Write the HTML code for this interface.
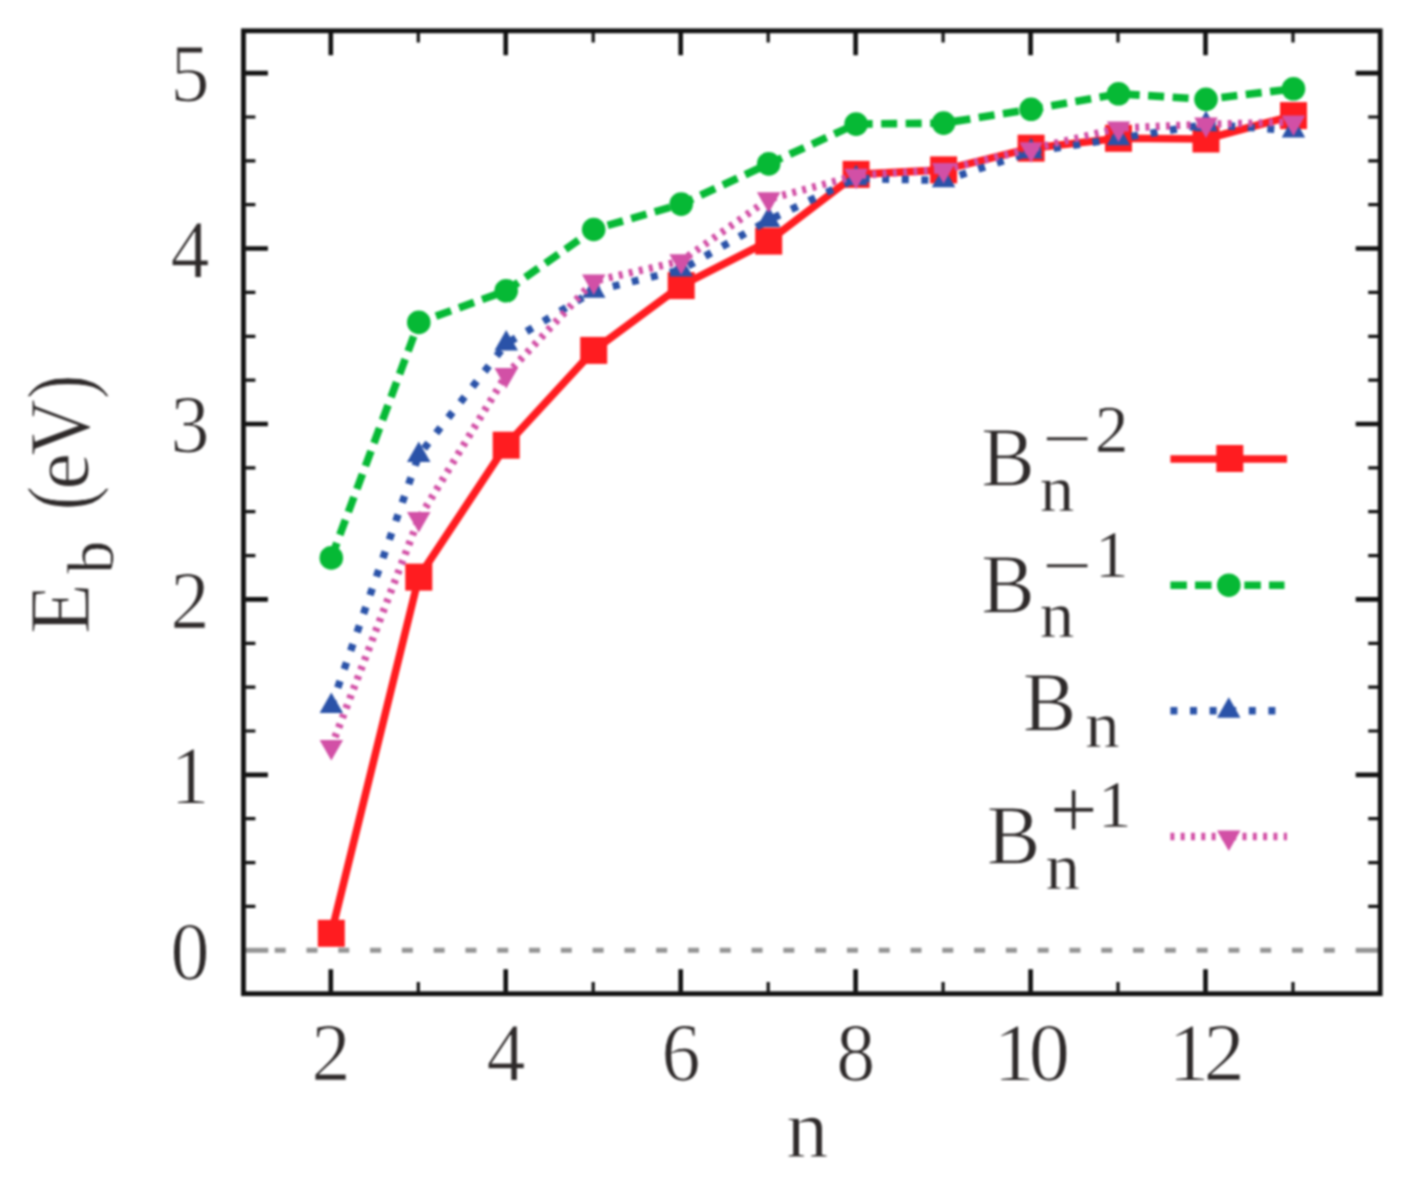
<!DOCTYPE html>
<html lang="en"><head><meta charset="utf-8"><title>Binding energy per atom of boron clusters</title>
<style>
html,body{margin:0;padding:0;background:#fff;}
body{width:1420px;height:1181px;overflow:hidden;}
svg{display:block;filter:blur(1px);}
text{font-family:"Liberation Serif",serif;fill:#2e2a2a;stroke:#fff;stroke-width:1.1px;}
.s{stroke-width:0.5px;}
</style></head><body>
<svg width="1420" height="1181" viewBox="0 0 1420 1181">
<rect width="1420" height="1181" fill="#fff"/>

<g stroke="#959595" stroke-width="5" fill="none">
<line x1="245.8" y1="950.3" x2="268.3" y2="950.3"/>
<line x1="1355.7" y1="950.3" x2="1377.9" y2="950.3"/>
<line x1="274.7" y1="950.3" x2="1345" y2="950.3" stroke-dasharray="11 20.79"/>
</g>
<g stroke="#111" fill="none">
<path stroke-width="4.6" d="M245.4 774.9h22.5M1378.2 774.9h-22.5M245.4 599.4h22.5M1378.2 599.4h-22.5M245.4 424.0h22.5M1378.2 424.0h-22.5M245.4 248.5h22.5M1378.2 248.5h-22.5M245.4 73.1h22.5M1378.2 73.1h-22.5M330.8 32.8v22.5M330.8 991.7v-22.5M505.7 32.8v22.5M505.7 991.7v-22.5M680.7 32.8v22.5M680.7 991.7v-22.5M855.6 32.8v22.5M855.6 991.7v-22.5M1030.6 32.8v22.5M1030.6 991.7v-22.5M1205.5 32.8v22.5M1205.5 991.7v-22.5"/>
<path stroke-width="3.2" d="M245.4 906.4h10M1378.2 906.4h-10M245.4 862.6h10M1378.2 862.6h-10M245.4 818.7h10M1378.2 818.7h-10M245.4 731.0h10M1378.2 731.0h-10M245.4 687.1h10M1378.2 687.1h-10M245.4 643.3h10M1378.2 643.3h-10M245.4 555.6h10M1378.2 555.6h-10M245.4 511.7h10M1378.2 511.7h-10M245.4 467.8h10M1378.2 467.8h-10M245.4 380.1h10M1378.2 380.1h-10M245.4 336.3h10M1378.2 336.3h-10M245.4 292.4h10M1378.2 292.4h-10M245.4 204.7h10M1378.2 204.7h-10M245.4 160.8h10M1378.2 160.8h-10M245.4 117.0h10M1378.2 117.0h-10M418.3 32.8v9.6M418.3 991.7v-9.6M593.2 32.8v9.6M593.2 991.7v-9.6M768.2 32.8v9.6M768.2 991.7v-9.6M943.1 32.8v9.6M943.1 991.7v-9.6M1118.0 32.8v9.6M1118.0 991.7v-9.6M1293.0 32.8v9.6M1293.0 991.7v-9.6"/>
</g>
<g fill="none" stroke-linejoin="round">
<polyline points="331.3,933.3 418.8,577.1 506.2,445.2 593.7,350.4 681.2,285.6 768.7,241.1 856.1,174.4 943.6,169.9 1031.1,148.2 1118.5,138.3 1206.0,139.0 1293.5,115.6" stroke="#ff1c20" stroke-width="7.6"/>
<rect x="317.8" y="919.8" width="27" height="27" fill="#ff1c20"/><rect x="405.3" y="563.6" width="27" height="27" fill="#ff1c20"/><rect x="492.7" y="431.7" width="27" height="27" fill="#ff1c20"/><rect x="580.2" y="336.9" width="27" height="27" fill="#ff1c20"/><rect x="667.7" y="272.1" width="27" height="27" fill="#ff1c20"/><rect x="755.2" y="227.6" width="27" height="27" fill="#ff1c20"/><rect x="842.6" y="160.9" width="27" height="27" fill="#ff1c20"/><rect x="930.1" y="156.4" width="27" height="27" fill="#ff1c20"/><rect x="1017.6" y="134.7" width="27" height="27" fill="#ff1c20"/><rect x="1105.0" y="124.8" width="27" height="27" fill="#ff1c20"/><rect x="1192.5" y="125.5" width="27" height="27" fill="#ff1c20"/><rect x="1280.0" y="102.1" width="27" height="27" fill="#ff1c20"/>
<polyline points="331.3,557.9 418.8,322.4 506.2,290.8 593.7,229.5 681.2,204.1 768.7,163.9 856.1,124.1 943.6,123.1 1031.1,109.3 1118.5,93.8 1206.0,99.3 1293.5,88.8" stroke="#06b935" stroke-width="7.6" stroke-dasharray="16 8.5"/>
<circle cx="331.3" cy="557.9" r="11.8" fill="#06b935"/><circle cx="418.8" cy="322.4" r="11.8" fill="#06b935"/><circle cx="506.2" cy="290.8" r="11.8" fill="#06b935"/><circle cx="593.7" cy="229.5" r="11.8" fill="#06b935"/><circle cx="681.2" cy="204.1" r="11.8" fill="#06b935"/><circle cx="768.7" cy="163.9" r="11.8" fill="#06b935"/><circle cx="856.1" cy="124.1" r="11.8" fill="#06b935"/><circle cx="943.6" cy="123.1" r="11.8" fill="#06b935"/><circle cx="1031.1" cy="109.3" r="11.8" fill="#06b935"/><circle cx="1118.5" cy="93.8" r="11.8" fill="#06b935"/><circle cx="1206.0" cy="99.3" r="11.8" fill="#06b935"/><circle cx="1293.5" cy="88.8" r="11.8" fill="#06b935"/>
<polyline points="331.3,706.2 418.8,455.2 506.2,343.8 593.7,291.0 681.2,269.8 768.7,220.1 856.1,178.4 943.6,180.5 1031.1,151.8 1118.5,138.5 1206.0,124.5 1293.5,130.6" stroke="#2a52a8" stroke-width="7.4" stroke-dasharray="7 12.6"/>
<polygon points="331.3,692.5 319.6,713.0 343.1,713.0" fill="#2a52a8"/><polygon points="418.8,441.5 407.0,462.0 430.5,462.0" fill="#2a52a8"/><polygon points="506.2,330.1 494.5,350.6 518.0,350.6" fill="#2a52a8"/><polygon points="593.7,277.3 582.0,297.8 605.5,297.8" fill="#2a52a8"/><polygon points="681.2,256.1 669.4,276.6 692.9,276.6" fill="#2a52a8"/><polygon points="768.7,206.4 756.9,226.9 780.4,226.9" fill="#2a52a8"/><polygon points="856.1,164.7 844.4,185.2 867.9,185.2" fill="#2a52a8"/><polygon points="943.6,166.8 931.8,187.3 955.3,187.3" fill="#2a52a8"/><polygon points="1031.1,138.1 1019.3,158.6 1042.8,158.6" fill="#2a52a8"/><polygon points="1118.5,124.8 1106.8,145.3 1130.3,145.3" fill="#2a52a8"/><polygon points="1206.0,110.8 1194.2,131.3 1217.8,131.3" fill="#2a52a8"/><polygon points="1293.5,116.9 1281.7,137.4 1305.2,137.4" fill="#2a52a8"/>
<polyline points="331.3,746.8 418.8,518.7 506.2,374.9 593.7,281.2 681.2,261.1 768.7,199.1 856.1,175.6 943.6,169.7 1031.1,149.0 1118.5,128.2 1206.0,124.2 1293.5,122.2" stroke="#d250a6" stroke-width="7.4" stroke-dasharray="4 6.3"/>
<polygon points="331.3,760.5 319.6,740.0 343.1,740.0" fill="#d250a6"/><polygon points="418.8,532.4 407.0,511.9 430.5,511.9" fill="#d250a6"/><polygon points="506.2,388.6 494.5,368.1 518.0,368.1" fill="#d250a6"/><polygon points="593.7,294.9 582.0,274.4 605.5,274.4" fill="#d250a6"/><polygon points="681.2,274.8 669.4,254.3 692.9,254.3" fill="#d250a6"/><polygon points="768.7,212.8 756.9,192.3 780.4,192.3" fill="#d250a6"/><polygon points="856.1,189.3 844.4,168.8 867.9,168.8" fill="#d250a6"/><polygon points="943.6,183.4 931.8,162.9 955.3,162.9" fill="#d250a6"/><polygon points="1031.1,162.7 1019.3,142.2 1042.8,142.2" fill="#d250a6"/><polygon points="1118.5,141.9 1106.8,121.4 1130.3,121.4" fill="#d250a6"/><polygon points="1206.0,137.9 1194.2,117.4 1217.8,117.4" fill="#d250a6"/><polygon points="1293.5,135.9 1281.7,115.4 1305.2,115.4" fill="#d250a6"/>
</g>
<rect x="243.45" y="30.8" width="1136.75" height="962.90" fill="none" stroke="#111" stroke-width="4.8"/>
<g font-size="82.5" text-anchor="middle">
<text x="331.0" y="1080.2" textLength="39" lengthAdjust="spacingAndGlyphs">2</text>
<text x="505.9" y="1080.2" textLength="39" lengthAdjust="spacingAndGlyphs">4</text>
<text x="680.9" y="1080.2" textLength="39" lengthAdjust="spacingAndGlyphs">6</text>
<text x="855.8" y="1080.2" textLength="39" lengthAdjust="spacingAndGlyphs">8</text>
<text x="1028.7" y="1080.2" letter-spacing="-6">10</text>
<text x="1203.6" y="1080.2" letter-spacing="-6">12</text>
</g>
<g font-size="82.5" text-anchor="end">
<text x="209.5" y="978.5" textLength="39" lengthAdjust="spacingAndGlyphs">0</text>
<text x="209.5" y="803.1" textLength="39" lengthAdjust="spacingAndGlyphs">1</text>
<text x="209.5" y="627.6" textLength="39" lengthAdjust="spacingAndGlyphs">2</text>
<text x="209.5" y="452.2" textLength="39" lengthAdjust="spacingAndGlyphs">3</text>
<text x="209.5" y="276.7" textLength="39" lengthAdjust="spacingAndGlyphs">4</text>
<text x="209.5" y="101.3" textLength="39" lengthAdjust="spacingAndGlyphs">5</text>
</g>
<text x="807.3" y="1157.2" font-size="85" text-anchor="middle">n</text>
<text transform="translate(88.4 631.7) rotate(-90)" font-size="83"><tspan x="-2.5" y="0.8" font-size="86" textLength="51" lengthAdjust="spacingAndGlyphs">E</tspan><tspan class="s" x="58" y="24.4" font-size="66">b</tspan><tspan x="100" y="0"> </tspan><tspan x="121.4" y="1.6" font-size="90" textLength="24" lengthAdjust="spacingAndGlyphs">(</tspan><tspan x="142" y="0">e</tspan><tspan x="176" y="0.8" font-size="86" textLength="56.5" lengthAdjust="spacingAndGlyphs">V</tspan><tspan x="233" y="1.6" font-size="90" textLength="24" lengthAdjust="spacingAndGlyphs">)</tspan></text>
<g>
<text font-size="85.5"><tspan x="981.3" y="486.3" textLength="53.5" lengthAdjust="spacingAndGlyphs">B</tspan><tspan class="s" x="1039.7" y="511" font-size="66" textLength="34.5" lengthAdjust="spacingAndGlyphs">n</tspan><tspan class="s" x="1042.5" y="461" font-size="67" textLength="50" lengthAdjust="spacingAndGlyphs">−</tspan><tspan class="s" x="1095" y="452.1" font-size="67">2</tspan></text>
<text font-size="85.5"><tspan x="981.3" y="612.6" textLength="53.5" lengthAdjust="spacingAndGlyphs">B</tspan><tspan class="s" x="1039.7" y="636.6" font-size="66" textLength="34.5" lengthAdjust="spacingAndGlyphs">n</tspan><tspan class="s" x="1042.5" y="587.5" font-size="67" textLength="50" lengthAdjust="spacingAndGlyphs">−</tspan><tspan class="s" x="1095" y="577" font-size="67">1</tspan></text>
<text font-size="85.5"><tspan x="1022.8" y="731.3" textLength="53.5" lengthAdjust="spacingAndGlyphs">B</tspan><tspan class="s" x="1085.2" y="746.5" font-size="66" textLength="34.5" lengthAdjust="spacingAndGlyphs">n</tspan></text>
<text font-size="85.5"><tspan x="986.8" y="863.6" textLength="53.5" lengthAdjust="spacingAndGlyphs">B</tspan><tspan class="s" x="1045.5" y="888.5" font-size="66" textLength="34.5" lengthAdjust="spacingAndGlyphs">n</tspan><tspan class="s" x="1050" y="838" font-size="84" textLength="47.4" lengthAdjust="spacingAndGlyphs">+</tspan><tspan class="s" x="1098" y="827" font-size="67">1</tspan></text>
</g>
<g fill="none">
<line x1="1170.4" y1="459" x2="1287" y2="459" stroke="#ff1c20" stroke-width="7.6"/><rect x="1216.3" y="445.0" width="27" height="27" fill="#ff1c20"/>
<line x1="1170.4" y1="585.2" x2="1284.5" y2="585.2" stroke="#06b935" stroke-width="7.6" stroke-dasharray="16.5 8.15"/><circle cx="1228.8" cy="585.2" r="11.8" fill="#06b935"/>
<line x1="1170.4" y1="710.8" x2="1280" y2="710.8" stroke="#2a52a8" stroke-width="7.4" stroke-dasharray="7 12.6"/><polygon points="1228.8,697.3 1217.0,717.8 1240.5,717.8" fill="#2a52a8"/>
<line x1="1170.4" y1="836.5" x2="1287" y2="836.5" stroke="#d250a6" stroke-width="7.4" stroke-dasharray="4 6.3"/><polygon points="1228.8,850.9 1217.0,830.4 1240.5,830.4" fill="#d250a6"/>
</g>
</svg></body></html>
